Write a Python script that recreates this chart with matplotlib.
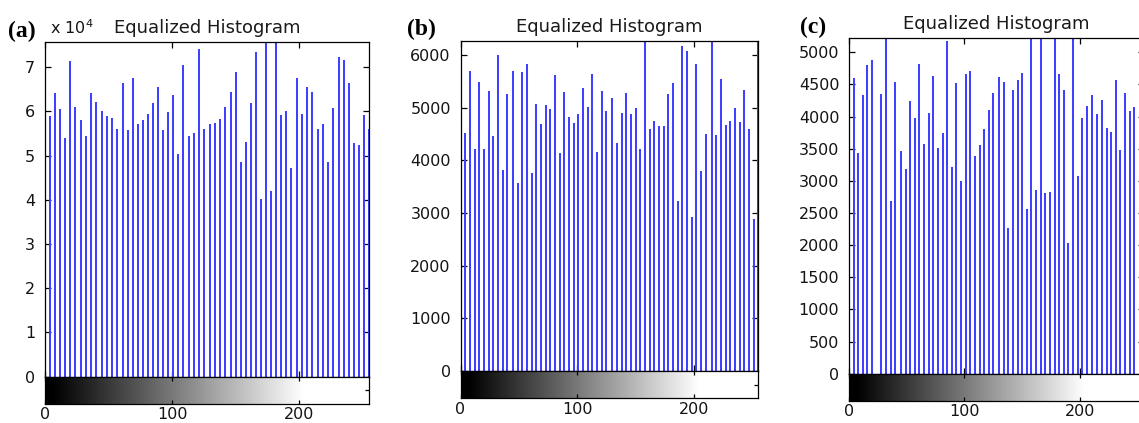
import numpy as np
import matplotlib
matplotlib.use("Agg")
import matplotlib.pyplot as plt

# ---------------- data ----------------
gray_levels = np.round(np.arange(64) * 255 / 63)

counts_a = [58700, 58900, 64100, 60500, 53900, 71500, 61000, 58100, 54500, 64100,
            62100, 60200, 58900, 58600, 56100, 66400, 55700, 67600, 57100, 58100,
            59500, 61900, 65500, 55900, 59800, 63600, 50400, 70400, 54500, 55200,
            74100, 56100, 57100, 57300, 58300, 61000, 64500, 68900, 48600, 53000,
            61900, 73400, 40300, 79000, 42000, 79000, 59100, 60000, 47300, 67600,
            59500, 65500, 64500, 56100, 57100, 48600, 60800, 72300, 71700, 66400,
            52800, 52400, 59100, 56000]

counts_b = [5050, 4516, 5707, 4217, 5484, 4217, 5325, 4465, 6013, 3828,
            5261, 5701, 3567, 5682, 5841, 3764, 5076, 4701, 5057, 4981,
            5618, 4140, 5293, 4834, 4720, 4879, 5376, 5019, 5637, 4159,
            5325, 4943, 5178, 4338, 4898, 5274, 4879, 5000, 4217, 6600,
            4605, 4758, 4656, 4656, 5261, 5478, 3223, 6172, 6076, 2930,
            5841, 3803, 4503, 6600, 4484, 5541, 4675, 4758, 5000, 4739,
            5338, 4599, 2885, 6600]

counts_c = [4370, 4595, 3437, 4332, 4795, 4874, 0, 4347, 5600, 2684,
            4532, 3463, 3184, 4237, 3979, 4816, 3568, 4058, 4632, 3511,
            3742, 5174, 3211, 4516, 3000, 4663, 4716, 3384, 3558, 3805,
            4095, 4368, 4611, 4542, 2263, 4411, 4568, 4679, 2569, 5600,
            2853, 5600, 2805, 2821, 5600, 4663, 4411, 2026, 5600, 3079,
            3979, 4163, 4332, 4042, 4263, 3821, 3753, 4568, 3479, 4374,
            4079, 4147]

panel_labels = ["(a)", "(b)", "(c)"]
title_text = "Equalized Histogram"
ylims = [75700, 6270, 5227]
yticks_list = [np.arange(0, 80000, 10000), np.arange(0, 7000, 1000), np.arange(0, 5500, 500)]
ytick_labels = [[str(i) for i in range(8)],
                [str(v) for v in range(0, 7000, 1000)],
                [str(v) for v in range(0, 5500, 500)]]
xtick_vals = [0, 100, 200]

# ---------------- layout (pixels) ----------------
W, H = 1139, 423
fig = plt.figure(figsize=(W / 100, H / 100), dpi=100)
plt.rcParams['font.family'] = ['DejaVu Sans']


def box(l, t, r, b):
    return [l / W, 1 - b / H, (r - l) / W, (b - t) / H]

# (left, top, right, zero-line, colorbar bottom)
geo = [(45, 42, 369, 376.7, 403.7),
       (460.5, 41, 758.3, 371, 398.3),
       (849, 37.7, 1143.5, 373.7, 401)]
label_pos = [(8, 37), (407, 35), (800, 33)]
datasets = [counts_a, counts_b, counts_c]

stem_color = (0.25, 0.25, 1.0)
tick_fs = 11.5
text_col = "#141414"

grad_x = np.linspace(0, 255, 512)
grad = np.clip((grad_x - 6) / 198.0, 0, 1)[None, :]

for i in range(3):
    l, t, r, z, cb = geo[i]
    ax = fig.add_axes(box(l, t, r, z))
    vals = np.array(datasets[i], dtype=float)
    xs = gray_levels[:len(vals)]
    ax.vlines(xs, 0, vals, color=stem_color, lw=1.45)
    ax.set_xlim(0, 255)
    ax.set_ylim(0, ylims[i])
    ax.set_xticks(xtick_vals)
    ax.set_xticklabels([])
    ax.set_yticks(yticks_list[i])
    ax.set_yticklabels(ytick_labels[i], fontsize=tick_fs, color=text_col)
    ax.tick_params(direction="in", length=4, width=0.9, top=True, right=True,
                   bottom=True, left=True, pad=7, colors="black", labelcolor=text_col)
    for s in ax.spines.values():
        s.set_linewidth(0.9)
    ax.set_title(title_text, fontsize=13, pad=6.5, color="#1a1a1a")

    cax = fig.add_axes(box(l, z, r, cb))
    cax.imshow(grad, cmap="gray", vmin=0, vmax=1, aspect="auto",
               extent=[0, 255, 0, 1], interpolation="bilinear")
    cax.set_xlim(0, 255)
    cax.set_ylim(0, 1)
    cax.set_xticks(xtick_vals)
    cax.set_xticklabels([str(v) for v in xtick_vals], fontsize=tick_fs, color=text_col)
    cax.set_yticks([0.5])
    cax.set_yticklabels([])
    cax.tick_params(direction="in", length=3, width=0.9, top=True, bottom=True,
                    left=False, right=True, pad=2.5, labelcolor=text_col)
    for s in cax.spines.values():
        s.set_linewidth(0.9)

    lx, ly = label_pos[i]
    fig.text(lx / W, 1 - ly / H, panel_labels[i], fontsize=17, fontweight="bold",
             family="Liberation Serif", ha="left", va="baseline", color="black")

# exponent label of panel (a)
fig.text(50 / W, 1 - 33.5 / H, r"x 10$^{4}$", fontsize=11.5, color=text_col,
         ha="left", va="baseline")

fig.savefig("out.png", dpi=100)
